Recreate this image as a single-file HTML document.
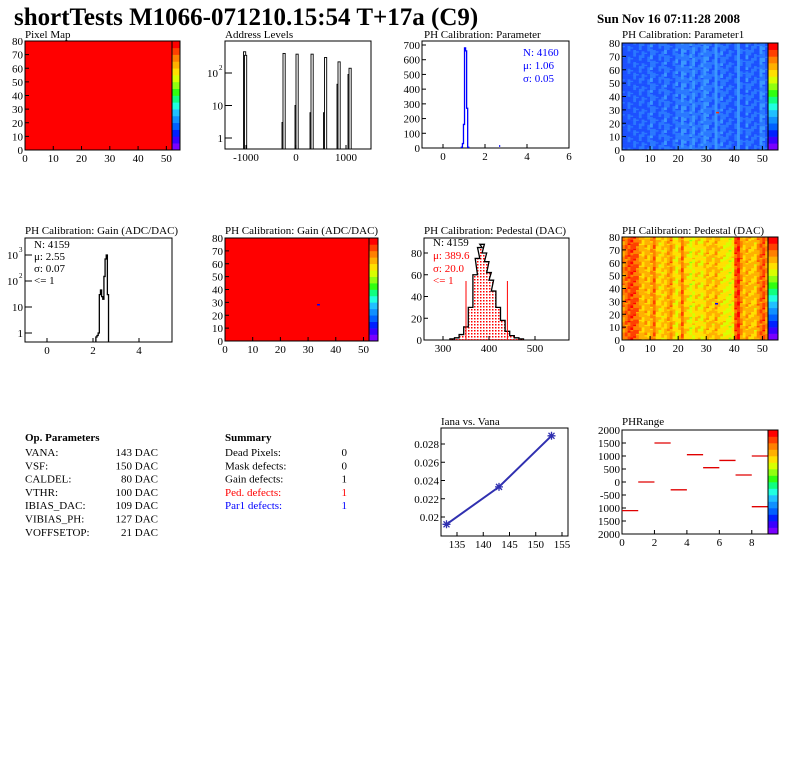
<!DOCTYPE html>
<html><head><meta charset="utf-8">
<style>
body{margin:0;background:#fff;}
svg{display:block;font-family:"Liberation Serif",serif;}
</style></head>
<body>
<svg id="c" width="796" height="772" viewBox="0 0 796 772" xmlns="http://www.w3.org/2000/svg">
<text x="14" y="25" font-size="25" font-weight="bold">shortTests M1066-071210.15:54 T+17a (C9)</text>
<text x="597" y="23" font-size="13" font-weight="bold">Sun Nov 16 07:11:28 2008</text>
</svg>
<script>
// ---- data ----
const addrCenters=[-1030,-1010,-260,-240,0,20,300,320,570,590,840,860,1060,1080];
const addrCounts=[450,350,3,400,10,380,6,380,6,300,45,220,90,140];
const paramBinsX=[0.9,0.95,1.0,1.05,1.1,1.15,1.2];
const paramCounts=[5,30,160,680,660,270,5];
const gainBinsX=[2.15,2.2,2.25,2.3,2.35,2.4,2.45,2.5,2.55,2.6,2.65];
const gainCounts=[0.7,0.8,1,30,45,25,20,150,700,1000,30];
const pedBinsX=[320,330,340,350,360,370,375,380,385,390,395,400,405,410,420,430,440,450,460,470];
const pedCounts=[1,2,5,12,30,60,75,85,88,80,72,62,55,45,30,18,8,4,2,1];
const pedCuts=[350,440];
const vana=[133,143,153];
const iana=[0.0192,0.0233,0.0289];
const phBins=[0,1,2,3,4,5,6,7,8,8];
const phVals=[-1100,0,1500,-300,1050,550,830,270,1000,-950];
const p1Cols=[1.05,1.0,1.1,1.05,1.1,1.05,1.1,1.1,1.05,1.1,1.15,1.1,1.05,1.1,1.1,1.15,1.1,1.05,1.1,1.15,1.1,1.2,1.15,1.1,1.15,1.2,1.1,1.1,1.15,1.2,1.15,1.1,1.1,1.25,1.1,1.15,1.1,1.1,1.1,1.05,1.1,1.25,1.1,1.05,1.15,1.1,1.1,1.1,1.05,1.2,1.15,1.05];
const pedCols=[420,430,440,445,440,430,410,400,410,400,410,430,400,390,395,400,410,420,395,380,400,430,400,390,375,385,395,390,380,395,405,400,395,410,395,390,385,380,375,385,440,450,420,400,410,405,400,395,420,430,440,415];
// ---- helpers ----
const S=document.getElementById('c');const NS='http://www.w3.org/2000/svg';
function el(t,a,p){const e=document.createElementNS(NS,t);for(const k in a)e.setAttribute(k,a[k]);(p||S).appendChild(e);return e;}
function txt(x,y,s,sz,anchor,fill,p){const e=el('text',{x:x,y:y,'font-size':sz,'text-anchor':anchor||'start',fill:fill||'#000'},p);e.textContent=s;return e;}
function lin(a,b,c,d){return v=>c+(v-a)*(d-c)/(b-a);}
function frame(name){const g=el('g',{});return g;}
function box(g,x0,y0,x1,y1){el('rect',{x:x0,y:y0,width:x1-x0,height:y1-y0,fill:'none',stroke:'#000','stroke-width':1},g);}
function xticks(g,fx,vals,y1,labels){vals.forEach((v,i)=>{const x=fx(v);el('line',{x1:x,y1:y1,x2:x,y2:y1-4,stroke:'#000'},g);const t=txt(x,y1+12,labels[i],11,'middle','#000',g);});}
function yticks(g,fy,vals,x0,labels){vals.forEach((v,i)=>{const y=fy(v);el('line',{x1:x0,y1:y,x2:x0+4,y2:y,stroke:'#000'},g);const t=txt(x0-2,y+4,labels[i],11,'end','#000',g);});}
function logticks(g,fy,x0,exps){exps.forEach(e=>{const y=fy(Math.pow(10,e));el('line',{x1:x0,y1:y,x2:x0+7,y2:y,stroke:'#000'},g);
 if(e===0)txt(x0-2,y+4,'1',11,'end','#000',g);else if(e===1)txt(x0-2,y+4,'10',11,'end','#000',g);else{txt(x0-7,y+4,'10',11,'end','#000',g);txt(x0-6,y-3,String(e),7,'start','#000',g);}});}
function title(g,x,y,s){const t=txt(x,y,s,11,'start','#000',g);}
const pal=['#7a00ff','#3a00ff','#0020ff','#0060ff','#1090ff','#20c0ff','#20ffe0','#10ff80','#30ff10','#90ff10','#d8ff00','#ffe000','#ffb000','#ff8000','#ff4000','#ff0000'];
function palette(g,x0,y0,x1,y1){const n=pal.length,h=(y1-y0)/n;pal.forEach((c,i)=>el('rect',{x:x0,y:y1-(i+1)*h,width:x1-x0,height:h+0.3,fill:c},g));box(g,x0,y0,x1,y1);}
function mapAxes(g,x0,y0,x1,y1){const fx=lin(0,52,x0,x1),fy=lin(0,80,y1,y0);box(g,x0,y0,x1,y1);xticks(g,fx,[0,10,20,30,40,50],y1,['0','10','20','30','40','50']);yticks(g,fy,[0,10,20,30,40,50,60,70,80],x0,['0','10','20','30','40','50','60','70','80']);return [fx,fy];}
function colorP1(v){return v<1.1?'#1c50ff':(v<1.18?'#2a78ff':'#3a98ff');}
function colorPed(v){const i=Math.max(0,Math.min(15,Math.round((v-190)/(290)*16)));return pal[i];}
function heat(g,fx,fy,cols,cf,amp){cols.forEach((cv,c)=>{for(let r=0;r<80;r++){const h=((c*73+r*151)%17)/16-0.5;const v=cv+h*amp;el('rect',{x:fx(c),y:fy(r+1),width:fx(c+1)-fx(c)+0.3,height:fy(r)-fy(r+1)+0.3,fill:cf(v)},g);}});}
function hist(g,fx,fy,xs,ys,w,col,y0,fill){let d='M'+fx(xs[0]-w/2)+','+y0;xs.forEach((x,i)=>{d+=' L'+fx(x-w/2)+','+fy(ys[i])+' L'+fx(x+w/2)+','+fy(ys[i]);});d+=' L'+fx(xs[xs.length-1]+w/2)+','+y0;const p=el('path',{d:d,fill:fill||'none',stroke:col,'stroke-width':1.3},g);}
function L10(v){return Math.log10(v);}
// ---- Pixel Map ----
{const g=frame('pixel-map');title(g,25,38,'Pixel Map');el('rect',{x:25,y:41,width:147,height:109,fill:'#ff0000'},g);mapAxes(g,25,41,172,150);palette(g,172,41,180,150);}
// ---- Address Levels ----
{const g=frame('address-levels');title(g,225,38,'Address Levels');const fx=lin(-1000,1000,246,346),fy=v=>lin(0,2,138,73)(L10(v));box(g,225,41,371,149);
addrCenters.forEach((c,i)=>{const r=el('rect',{x:fx(c)-1,y:fy(addrCounts[i]),width:2.2,height:149-fy(addrCounts[i]),fill:'#fff',stroke:'#000','stroke-width':0.9},g);});
xticks(g,fx,[-1000,0,1000],149,['-1000','0','1000']);logticks(g,fy,225,[0,1,2]);}
// ---- Parameter ----
{const g=frame('ph-parameter');title(g,424,38,'PH Calibration: Parameter');const fx=lin(0,6,443,569),fy=lin(0,700,148,45);box(g,422,41,569,148);hist(g,fx,fy,paramBinsX,paramCounts,0.05,'#0000ff',148);el('line',{x1:fx(2.7),y1:147,x2:fx(2.7),y2:145,stroke:'#0000ff'},g);
xticks(g,fx,[0,2,4,6],148,['0','2','4','6']);yticks(g,fy,[0,100,200,300,400,500,600,700],422,['0','100','200','300','400','500','600','700']);
txt(523,56,'N: 4160',11,'start','#0000ff',g);txt(523,69,'\u03bc: 1.06',11,'start','#0000ff',g);txt(523,82,'\u03c3: 0.05',11,'start','#0000ff',g);}
// ---- Parameter1 map ----
{const g=frame('ph-parameter1-map');title(g,622,38,'PH Calibration: Parameter1');const fx=lin(0,52,622,768),fy=lin(0,80,150,43);heat(g,fx,fy,p1Cols,colorP1,0.12);el('rect',{x:fx(33.5),y:fy(28.5),width:3,height:1.5,fill:'#ff3000'},g);mapAxes(g,622,43,768,150);palette(g,768,43,778,150);}
// ---- Gain hist ----
{const g=frame('gain-histogram');title(g,25,234,'PH Calibration: Gain (ADC/DAC)');const fx=lin(0,4,47,139),fy=v=>lin(0,3,333,255)(L10(v));box(g,25,238,172,342);hist(g,fx,fy,gainBinsX,gainCounts,0.05,'#000',342);
xticks(g,fx,[0,2,4],342,['0','2','4']);logticks(g,fy,25,[0,1,2,3]);
['N: 4159','\u03bc: 2.55','\u03c3: 0.07','<= 1'].forEach((s,i)=>txt(34,248+i*12,s,11,'start','#000',g));}
// ---- Gain map ----
{const g=frame('gain-map');title(g,225,234,'PH Calibration: Gain (ADC/DAC)');el('rect',{x:225,y:238,width:144,height:103,fill:'#ff0000'},g);el('rect',{x:317,y:304,width:3,height:1.5,fill:'#0000ff'},g);mapAxes(g,225,238,369,341);palette(g,369,238,378,341);}
// ---- Pedestal hist ----
{const g=frame('pedestal-histogram');title(g,424,234,'PH Calibration: Pedestal (DAC)');const fx=lin(300,500,443,535),fy=lin(0,80,340,253);box(g,424,238,569,340);
const d=el('defs',{},g);const pt=el('pattern',{id:'dots',width:3,height:3,patternUnits:'userSpaceOnUse'},d);el('rect',{x:0,y:0,width:1.5,height:1.5,fill:'#ff0000'},pt);
hist(g,fx,fy,pedBinsX,pedCounts,10,'#000',340,'url(#dots)');pedCuts.forEach(v=>{const l=el('line',{x1:fx(v),y1:340,x2:fx(v),y2:281,stroke:'#ff0000'},g);});
xticks(g,fx,[300,400,500],340,['300','400','500']);yticks(g,fy,[0,20,40,60,80],424,['0','20','40','60','80']);
txt(433,246,'N: 4159',11,'start','#000',g);txt(433,259,'\u03bc: 389.6',11,'start','#ff0000',g);txt(433,272,'\u03c3: 20.0',11,'start','#ff0000',g);txt(433,284,'<= 1',11,'start','#ff0000',g);}
// ---- Pedestal map ----
{const g=frame('pedestal-map');title(g,622,234,'PH Calibration: Pedestal (DAC)');const fx=lin(0,52,622,768),fy=lin(0,80,340,237);heat(g,fx,fy,pedCols,colorPed,30);el('rect',{x:715,y:303,width:3,height:1.5,fill:'#0000ff'},g);mapAxes(g,622,237,768,340);palette(g,768,237,778,340);}
// ---- Op Parameters ----
{const g=frame('op-parameters');const t=txt(25,441,'Op. Parameters',11,'start','#000',g);t.setAttribute('font-weight','bold');
[['VANA:','143 DAC'],['VSF:','150 DAC'],['CALDEL:','80 DAC'],['VTHR:','100 DAC'],['IBIAS_DAC:','109 DAC'],['VIBIAS_PH:','127 DAC'],['VOFFSETOP:','21 DAC']].forEach((r,i)=>{txt(25,456+i*13.3,r[0],11,'start','#000',g);txt(158,456+i*13.3,r[1],11,'end','#000',g);});}
{const g=frame('summary');const t=txt(225,441,'Summary',11,'start','#000',g);t.setAttribute('font-weight','bold');
[['Dead Pixels:','0','#000'],['Mask defects:','0','#000'],['Gain defects:','1','#000'],['Ped. defects:','1','#ff0000'],['Par1 defects:','1','#0000ff']].forEach((r,i)=>{txt(225,456+i*13.3,r[0],11,'start',r[2],g);txt(347,456+i*13.3,r[1],11,'end',r[2],g);});}
// ---- Iana vs Vana ----
{const g=frame('iana-vs-vana');title(g,441,425,'Iana vs. Vana');const fx=lin(135,155,457,562),fy=lin(0.02,0.028,517,444);box(g,441,428,568,536);
const pts=vana.map((v,i)=>fx(v)+','+fy(iana[i])).join(' ');const pl=el('polyline',{points:pts,fill:'none',stroke:'#3030b0','stroke-width':2},g);
vana.forEach((v,i)=>{const x=fx(v),y=fy(iana[i]);const m=el('path',{d:`M${x-4},${y}H${x+4}M${x},${y-4}V${y+4}M${x-3},${y-3}L${x+3},${y+3}M${x-3},${y+3}L${x+3},${y-3}`,stroke:'#3030b0','stroke-width':1.3},g);});
xticks(g,fx,[135,140,145,150,155],536,['135','140','145','150','155']);yticks(g,fy,[0.02,0.022,0.024,0.026,0.028],441,['0.02','0.022','0.024','0.026','0.028']);}
// ---- PHRange ----
{const g=frame('phrange');title(g,622,425,'PHRange');const fx=lin(0,9,622,768),fy=lin(-2000,2000,534,430);box(g,622,430,768,534);
phBins.forEach((b,i)=>{const l=el('line',{x1:fx(b),y1:fy(phVals[i]),x2:fx(b+1),y2:fy(phVals[i]),stroke:'#e00000','stroke-width':1.3},g);});
xticks(g,fx,[0,2,4,6,8],534,['0','2','4','6','8']);yticks(g,fy,[-2000,-1500,-1000,-500,0,500,1000,1500,2000],622,['2000','1500','1000','-500','0','500','1000','1500','2000']);palette(g,768,430,778,534);}
</script>
</body></html>
